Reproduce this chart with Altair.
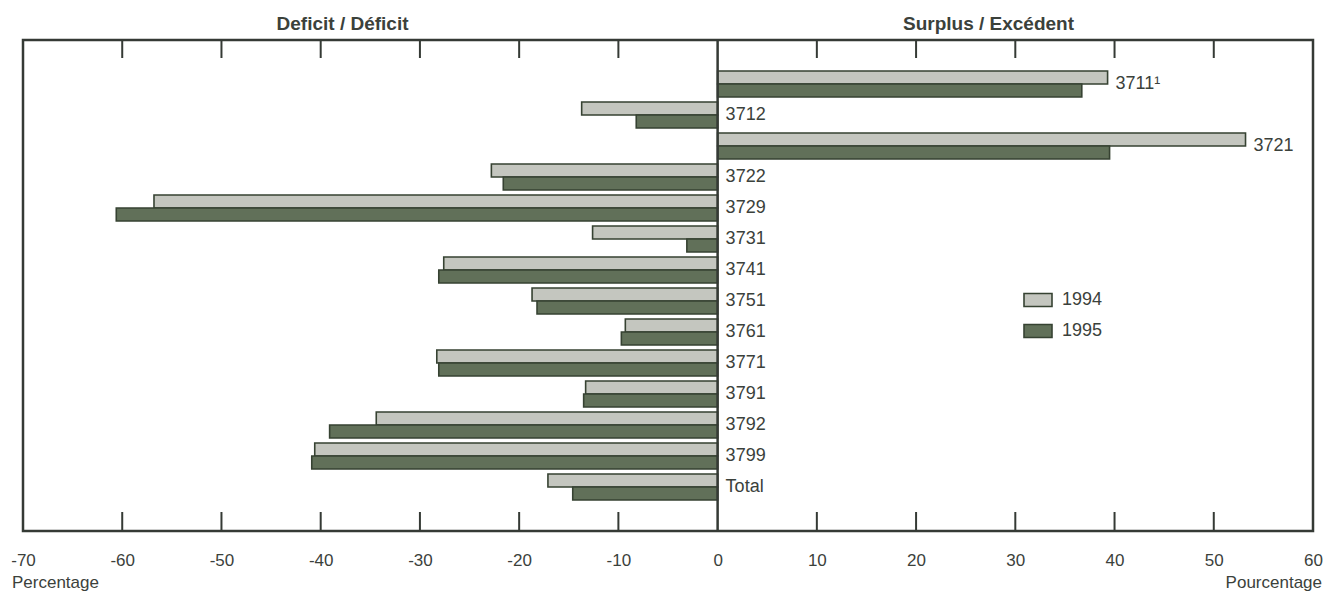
import altair as alt
import pandas as pd

categories = ["3711¹", "3712", "3721", "3722", "3729", "3731", "3741",
              "3751", "3761", "3771", "3791", "3792", "3799", "Total"]
values_1994 = [39.3, -13.7, 53.2, -22.8, -56.8, -12.6, -27.6,
               -18.7, -9.3, -28.3, -13.3, -34.4, -40.6, -17.1]
values_1995 = [36.7, -8.2, 39.5, -21.6, -60.6, -3.1, -28.1,
               -18.2, -9.7, -28.1, -13.5, -39.1, -40.9, -14.6]
years = ["1994", "1995"]
x_tick_values = [-70, -60, -50, -40, -30, -20, -10, 0, 10, 20, 30, 40, 50, 60]
inner_ticks = [-60, -50, -40, -30, -20, -10, 10, 20, 30, 40, 50]
side_titles = ["Deficit / Déficit", "Surplus / Excédent"]
side_centers = [-37.8, 27.3]

FONT = "Liberation Sans, Arial, Helvetica, sans-serif"
TXT = "#3b413b"
LINE = "#353a35"
W, H = 1290, 491

rows = []
for c, a, b in zip(categories, values_1994, values_1995):
    rows.append({"category": c, "year": "1994", "value": a})
    rows.append({"category": c, "year": "1995", "value": b})
df = pd.DataFrame(rows)

lab = pd.DataFrame({
    "category": categories,
    "pos": [max(0.0, a, b) for a, b in zip(values_1994, values_1995)],
})

xscale = alt.Scale(domain=[-70, 60], nice=False, zero=False)
yscale = alt.Scale(domain=categories, paddingInner=0.16, paddingOuter=1)

bars = alt.Chart(df).mark_bar(stroke="#364232", strokeWidth=1.6).encode(
    x=alt.X("value:Q", scale=xscale,
            axis=alt.Axis(values=x_tick_values, ticks=False, domain=False, grid=False,
                          labelPadding=21, labelFontSize=17, labelFont=FONT,
                          labelColor=TXT, labelFlush=False, title=None,
                          labelExpr="'' + datum.value")),
    x2=alt.datum(0),
    y=alt.Y("category:N", sort=categories, scale=yscale, axis=None),
    yOffset=alt.YOffset("year:N", sort=years,
                        scale=alt.Scale(domain=years, paddingInner=0, paddingOuter=0)),
    color=alt.Color("year:N",
                    scale=alt.Scale(domain=years, range=["#c4c6bf", "#617059"]),
                    legend=alt.Legend(orient="none", legendX=1000, legendY=245,
                                      title=None, symbolType="M-1,-0.46H1V0.46H-1Z",
                                      symbolSize=784, symbolStrokeColor="#364232",
                                      symbolStrokeWidth=1.6, labelFontSize=18,
                                      labelFont=FONT, labelColor=TXT,
                                      labelOffset=9, rowPadding=6)),
)

labels = alt.Chart(lab).mark_text(align="left", baseline="middle", dx=8,
                                  fontSize=18, font=FONT, color=TXT).encode(
    x=alt.X("pos:Q", scale=xscale),
    y=alt.Y("category:N", sort=categories, scale=yscale),
    text="category:N",
)

zero_line = alt.Chart(pd.DataFrame({"z": [0]})).mark_rule(
    color=LINE, strokeWidth=2.5).encode(x=alt.X("z:Q", scale=xscale))

tick_df = pd.DataFrame({"t": inner_ticks})
top_ticks = alt.Chart(tick_df).mark_rule(color=LINE, strokeWidth=2).encode(
    x=alt.X("t:Q", scale=xscale), y=alt.value(0), y2=alt.value(18))
bottom_ticks = alt.Chart(tick_df).mark_rule(color=LINE, strokeWidth=2).encode(
    x=alt.X("t:Q", scale=xscale), y=alt.value(H - 19), y2=alt.value(H))

titles = alt.Chart(pd.DataFrame({"label": side_titles, "center": side_centers})).mark_text(
    fontSize=19, fontWeight="bold", font=FONT, color=TXT, baseline="middle").encode(
    x=alt.X("center:Q", scale=xscale), y=alt.value(-16), text="label:N")

left_unit = alt.Chart(pd.DataFrame({"u": ["Percentage"], "p": [-70]})).mark_text(
    fontSize=17, font=FONT, color=TXT, align="left", baseline="alphabetic", dx=-11).encode(
    x=alt.X("p:Q", scale=xscale), y=alt.value(H + 57), text="u:N")
right_unit = alt.Chart(pd.DataFrame({"u": ["Pourcentage"], "p": [60]})).mark_text(
    fontSize=17, font=FONT, color=TXT, align="right", baseline="alphabetic", dx=9).encode(
    x=alt.X("p:Q", scale=xscale), y=alt.value(H + 57), text="u:N")

chart = alt.layer(bars, zero_line, top_ticks, bottom_ticks, labels, titles,
                  left_unit, right_unit).properties(
    width=W, height=H,
    autosize=alt.AutoSizeParams(type="none"),
    padding={"left": 15, "top": 32, "right": 10, "bottom": 60},
    background="white",
).configure_view(stroke=LINE, strokeWidth=2.5)

chart.save("out.html", embed_options={"renderer": "svg", "actions": False})
